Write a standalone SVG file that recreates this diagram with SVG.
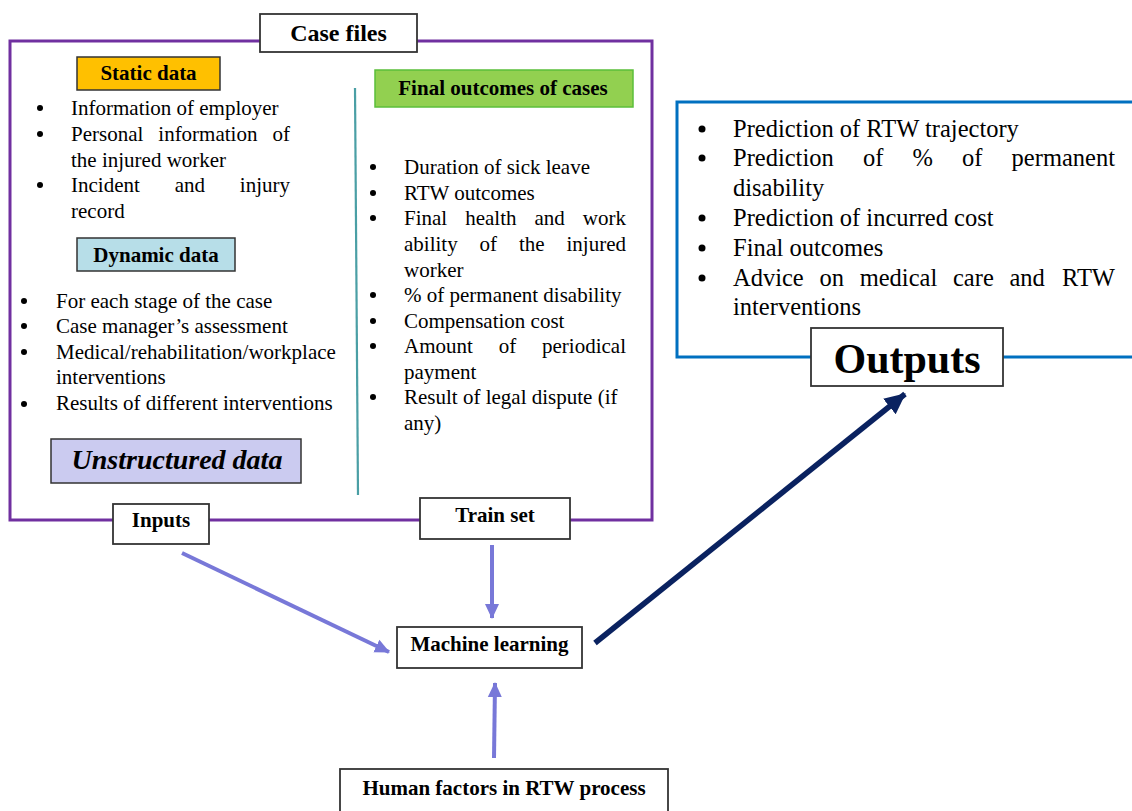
<svg xmlns="http://www.w3.org/2000/svg" width="1132" height="811" viewBox="0 0 1132 811">
<style>
.t{font-family:"Liberation Serif","Times New Roman",serif;font-size:21px;fill:#000}
.o{font-family:"Liberation Serif","Times New Roman",serif;font-size:24.5px;fill:#000}
.b{font-family:"Liberation Serif","Times New Roman",serif;font-size:21px;font-weight:bold;fill:#000;text-anchor:middle}
.lbl{fill:#fff;stroke:#333;stroke-width:1.8}
.light{stroke:#7878D8;stroke-width:4;fill:none}
.dark{stroke:#0A2260;stroke-width:5.5;fill:none}
</style>
<defs>
<marker id="ah" markerUnits="userSpaceOnUse" markerWidth="16" markerHeight="16" refX="14" refY="8" orient="auto">
<path d="M0,1 L15,8 L0,15 Z" fill="#7878D8"/>
</marker>
<marker id="ahd" markerUnits="userSpaceOnUse" markerWidth="22" markerHeight="22" refX="20" refY="11" orient="auto">
<path d="M0,1 L21,11 L0,21 Z" fill="#0A2260"/>
</marker>
</defs>

<g id="case-files">
<rect x="10" y="41" width="642" height="479" fill="none" stroke="#7030A0" stroke-width="3"/>
<line x1="355" y1="88" x2="358" y2="495" stroke="#4A9FA5" stroke-width="2.2"/>
</g>

<g id="case-files-label">
<rect class="lbl" x="260" y="14" width="157" height="38"/>
<text class="b" x="338.5" y="41" style="font-size:24px">Case files</text>
</g>

<g id="static-data">
<rect x="77" y="57" width="143" height="33" fill="#FFC000" stroke="#333" stroke-width="1.5"/>
<text class="b" x="148.5" y="80">Static data</text>
<g fill="#000">
<circle cx="40" cy="108" r="3"/><circle cx="40" cy="134" r="3"/><circle cx="40" cy="185" r="3"/>
</g>
<text class="t" x="71" y="115">Information of employer</text>
<text class="t" y="141"><tspan x="71">Personal</tspan><tspan x="158.3">information</tspan><tspan x="290" text-anchor="end">of</tspan></text>
<text class="t" x="71" y="167">the injured worker</text>
<text class="t" y="192"><tspan x="71">Incident</tspan><tspan x="174.7">and</tspan><tspan x="290" text-anchor="end">injury</tspan></text>
<text class="t" x="71" y="218">record</text>
</g>

<g id="dynamic-data">
<rect x="77" y="238" width="158" height="33" fill="#B7DEE8" stroke="#333" stroke-width="1.5"/>
<text class="b" x="156" y="262">Dynamic data</text>
<g fill="#000">
<circle cx="24" cy="301" r="3"/><circle cx="24" cy="326" r="3"/><circle cx="24" cy="352" r="3"/><circle cx="24" cy="404" r="3"/>
</g>
<text class="t" x="56" y="308">For each stage of the case</text>
<text class="t" x="56" y="333">Case manager’s assessment</text>
<text class="t" x="56" y="359">Medical/rehabilitation/workplace</text>
<text class="t" x="56" y="384">interventions</text>
<text class="t" x="56" y="410">Results of different interventions</text>
</g>

<g id="unstructured-data">
<rect x="51" y="439" width="250" height="44" fill="#CBCBF0" stroke="#333" stroke-width="1.5"/>
<text class="b" x="177" y="469" style="font-size:28px;font-style:italic">Unstructured data</text>
</g>

<g id="final-outcomes">
<rect x="375" y="70" width="258" height="37" fill="#92D050" stroke="#5BBF3A" stroke-width="1.5"/>
<text class="b" x="503" y="95">Final outcomes of cases</text>
<g fill="#000">
<circle cx="373" cy="167" r="3"/><circle cx="373" cy="193" r="3"/><circle cx="373" cy="218" r="3"/><circle cx="373" cy="295" r="3"/><circle cx="373" cy="321" r="3"/><circle cx="373" cy="346" r="3"/><circle cx="373" cy="397" r="3"/>
</g>
<text class="t" x="404" y="174">Duration of sick leave</text>
<text class="t" x="404" y="200">RTW outcomes</text>
<text class="t" y="225"><tspan x="404">Final</tspan><tspan x="465.2">health</tspan><tspan x="534.5">and</tspan><tspan x="626" text-anchor="end">work</tspan></text>
<text class="t" y="251"><tspan x="404">ability</tspan><tspan x="479.6">of</tspan><tspan x="519">the</tspan><tspan x="626" text-anchor="end">injured</tspan></text>
<text class="t" x="404" y="277">worker</text>
<text class="t" x="404" y="302">% of permanent disability</text>
<text class="t" x="404" y="328">Compensation cost</text>
<text class="t" y="353"><tspan x="404">Amount</tspan><tspan x="498.7">of</tspan><tspan x="626" text-anchor="end">periodical</tspan></text>
<text class="t" x="404" y="379">payment</text>
<text class="t" x="404" y="404">Result of legal dispute (if</text>
<text class="t" x="404" y="430">any)</text>
</g>

<g id="inputs">
<rect class="lbl" x="113" y="504" width="96" height="40"/>
<text class="b" x="161" y="527">Inputs</text>
</g>

<g id="train-set">
<rect class="lbl" x="420" y="498" width="150" height="41"/>
<text class="b" x="495" y="522">Train set</text>
</g>

<g id="outputs">
<rect x="677" y="102" width="470" height="255" fill="none" stroke="#0070C0" stroke-width="3"/>
<g fill="#000">
<circle cx="702" cy="129" r="3.5"/><circle cx="702" cy="158" r="3.5"/><circle cx="702" cy="218" r="3.5"/><circle cx="702" cy="248" r="3.5"/><circle cx="702" cy="278" r="3.5"/>
</g>
<text class="o" x="733" y="137">Prediction of RTW trajectory</text>
<text class="o" y="166"><tspan x="733">Prediction</tspan><tspan x="862.9">of</tspan><tspan x="912.5">%</tspan><tspan x="962.1">of</tspan><tspan x="1115" text-anchor="end">permanent</tspan></text>
<text class="o" x="733" y="196">disability</text>
<text class="o" x="733" y="226">Prediction of incurred cost</text>
<text class="o" x="733" y="256">Final outcomes</text>
<text class="o" y="286"><tspan x="733">Advice</tspan><tspan x="819.5">on</tspan><tspan x="859.7">medical</tspan><tspan x="953">care</tspan><tspan x="1009.5">and</tspan><tspan x="1115" text-anchor="end">RTW</tspan></text>
<text class="o" x="733" y="315">interventions</text>
</g>

<g id="outputs-label">
<rect class="lbl" x="811" y="328" width="192" height="58"/>
<text class="b" x="907" y="373" style="font-size:42px">Outputs</text>
</g>

<g id="machine-learning">
<rect class="lbl" x="397" y="627" width="185" height="41"/>
<text class="b" x="489.5" y="651">Machine learning</text>
</g>

<g id="human-factors">
<rect class="lbl" x="340" y="769" width="328" height="50"/>
<text class="b" x="504" y="795">Human factors in RTW process</text>
</g>

<g id="connectors">
<line class="light" x1="182" y1="553" x2="389" y2="652" marker-end="url(#ah)"/>
<line class="light" x1="492" y1="545" x2="492" y2="618" marker-end="url(#ah)"/>
<line class="light" x1="494" y1="758" x2="495" y2="683" marker-end="url(#ah)"/>
<line class="dark" x1="595" y1="643" x2="905" y2="394" marker-end="url(#ahd)"/>
</g>
</svg>
